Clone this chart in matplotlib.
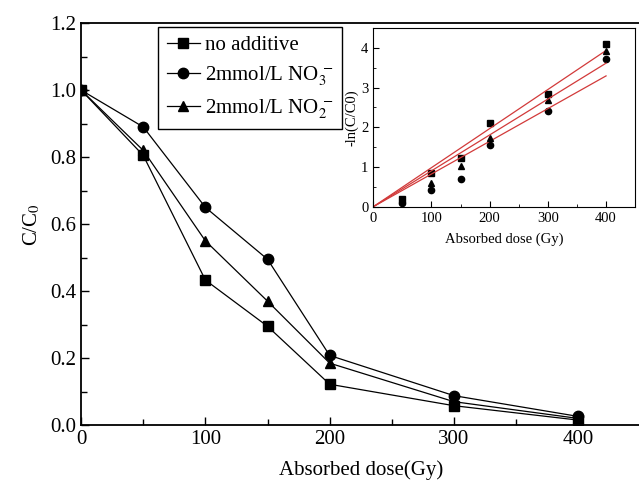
import numpy as np
import matplotlib
matplotlib.use("Agg")
import matplotlib.pyplot as plt

plt.rcParams['font.family'] = ['Liberation Serif', 'DejaVu Serif']
plt.rcParams['mathtext.fontset'] = 'stix'

# ── Data ─────────────────────────────────────────────────────
dose = [0, 50, 100, 150, 200, 300, 400]
no_additive = [1.0, 0.805, 0.433, 0.295, 0.122, 0.058, 0.015]
nitrate     = [1.0, 0.89, 0.65, 0.495, 0.208, 0.088, 0.026]
nitrite     = [1.0, 0.82, 0.55, 0.37, 0.185, 0.07, 0.02]

inset_dose = [50, 100, 150, 200, 300, 400]
ln_no_add  = [0.20, 0.84, 1.22, 2.12, 2.85, 4.10]
ln_nitrate = [0.10, 0.42, 0.70, 1.55, 2.42, 3.72]
ln_nitrite = [0.15, 0.60, 1.02, 1.72, 2.68, 3.92]

labels = ["no additive", "2mmol/L NO$_3^{\\,-}$", "2mmol/L NO$_2^{\\,-}$"]
markers = ["s", "o", "^"]

# ── Main plot ────────────────────────────────────────────────
fig = plt.figure(figsize=(6.39, 4.82), dpi=100)
ax = fig.add_axes([0.127, 0.118, 0.875, 0.834])

for y, m, lab in zip([no_additive, nitrate, nitrite], markers, labels):
    ax.plot(dose, y, color="black", lw=0.9, marker=m, ms=7.5, label=lab)

ax.set_xlim(0, 450); ax.set_ylim(0, 1.2)
ax.set_xticks([0, 100, 200, 300, 400])
ax.set_xticks(np.arange(50, 450, 100), minor=True)
ax.set_yticks(np.arange(0, 1.21, 0.2))
ax.set_yticks(np.arange(0.1, 1.2, 0.2), minor=True)
ax.yaxis.set_major_formatter(matplotlib.ticker.FormatStrFormatter("%.1f"))
ax.tick_params(which="both", direction="in", labelsize=15, top=False, right=False)
ax.tick_params(which="major", length=6, width=1)
ax.tick_params(which="minor", length=4, width=1)
for s in ax.spines.values(): s.set_linewidth(1.3)
ax.set_xlabel("Absorbed dose(Gy)", fontsize=15, labelpad=8)
ax.set_ylabel("C/C$_0$", fontsize=15, labelpad=6)

leg = ax.legend(loc="upper left", bbox_to_anchor=(0.138, 0.99), fontsize=15,
                frameon=True, fancybox=False, edgecolor="black", framealpha=1,
                handlelength=1.6, handletextpad=0.25, borderpad=0.4,
                labelspacing=0.45, borderaxespad=0)
leg.get_frame().set_linewidth(1.0)

# ── Inset ────────────────────────────────────────────────────
ins = fig.add_axes([0.584, 0.571, 0.41, 0.371])
x = np.array(inset_dose, dtype=float)
for y, m in zip([ln_no_add, ln_nitrate, ln_nitrite], markers):
    y = np.array(y)
    ins.plot(x, y, ls="none", marker=m, color="black", ms=4.5)
    k = (x * y).sum() / (x * x).sum()   # fit through origin
    xf = np.array([0, 400])
    ins.plot(xf, k * xf, color="#d23a3a", lw=0.9)

ins.set_xlim(0, 450); ins.set_ylim(0, 4.5)
ins.set_xticks([0, 100, 200, 300, 400])
ins.set_xticks(np.arange(50, 450, 100), minor=True)
ins.set_yticks([0, 1, 2, 3, 4])
ins.set_yticks(np.arange(0.5, 4.5, 1), minor=True)
ins.tick_params(which="both", direction="in", labelsize=10.5)
ins.tick_params(which="major", length=4)
ins.tick_params(which="minor", length=2.5)
ins.set_xlabel("Absorbed dose (Gy)", fontsize=10.5, labelpad=6)
ins.set_ylabel("-ln(C/C0)", fontsize=10.5, labelpad=2)

fig.savefig("out.png", dpi=100)
